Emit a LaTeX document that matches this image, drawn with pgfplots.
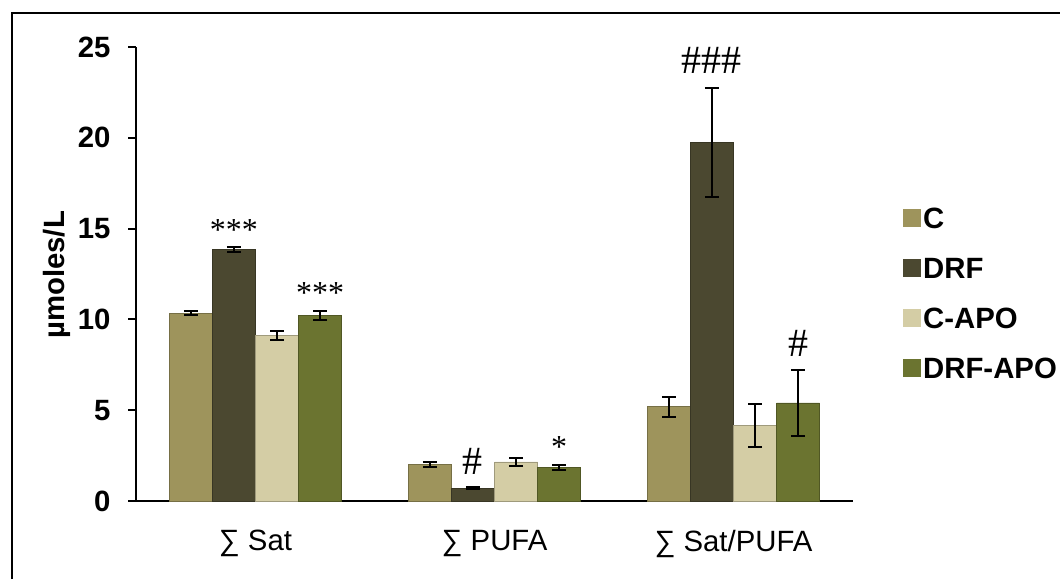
\documentclass[border=0pt]{standalone}
\usepackage{fontspec}
\setmainfont{Liberation Sans}
\newfontfamily\serif{Liberation Serif}
\usepackage{pgfplots}
\pgfplotsset{compat=1.18}
\definecolor{cC}{HTML}{9E945C}
\definecolor{cDRF}{HTML}{4B4830}
\definecolor{cCAPO}{HTML}{D4CDA5}
\definecolor{cDRFAPO}{HTML}{6B7430}
\pgfplotsset{
  mybar/.style={
    legend image code/.code={\fill[#1] (-3pt,-6.4pt) rectangle (9.75pt,6.4pt);},
    fill=#1, draw=#1!75!black, line width=0.5pt, bar shift=0pt,
    error bars/.cd, y dir=both, y explicit,
    error bar style={line width=1.5pt, black},
    error mark options={rotate=90, mark size=5.25pt, line width=1.5pt, black}},
}
\begin{document}
\begin{tikzpicture}
\useasboundingbox (0,0) rectangle (795pt,434.25pt);
\draw[line width=1.5pt] (9pt,0pt) -- (9pt,424.5pt) -- (800pt,424.5pt);
\begin{axis}[
  at={(102pt,58.5pt)}, anchor=south west,
  scale only axis, width=537.75pt, height=340.5pt,
  ybar, bar width=0.18,
  xmin=-0.5, xmax=2.5, ymin=0, ymax=25,
  axis x line*=bottom, axis y line*=left,
  axis line style={line width=1.8pt},
  tick align=outside,
  major tick length=6pt,
  tick style={line width=1.5pt, black},
  xtick={0,1,2},
  xticklabels={∑ Sat, ∑ PUFA, ∑ Sat/PUFA},
  x tick style={draw=none},
  extra x ticks={-0.5,0.5,1.5,2.5},
  extra x tick labels={},
  extra x tick style={tick style={draw=black, line width=1.5pt}, major tick length=6pt},
  ytick={0,5,10,15,20,25},
  /pgf/number format/assume math mode=true,
  yticklabel style={font=\bfseries\fontsize{22}{26}\selectfont, anchor=east, inner sep=0pt, xshift=-13pt},
  xticklabel style={font=\fontsize{22}{26}\selectfont, anchor=center, yshift=-26pt},
  ylabel={µmoles/L},
  ylabel style={font=\bfseries\fontsize{22}{26}\selectfont, at={(axis description cs:-0.110,0.498)}, anchor=center},
  clip=false,
  legend cell align=left,
  legend style={draw=none, fill=none, at={(1.0636,0.660)}, anchor=north west,
    font=\bfseries\fontsize{22}{26}\selectfont,
    nodes={inner sep=2pt, text height=16pt, text depth=0pt},
    row sep=17.5pt},
]
\addplot[mybar=cC]
  coordinates {(-0.27,10.35) +- (0,0.12) (0.73,2.0) +- (0,0.15) (1.73,5.2) +- (0,0.55)};
\addplot[mybar=cDRF]
  coordinates {(-0.09,13.85) +- (0,0.15) (0.91,0.7) +- (0,0.05) (1.91,19.75) +- (0,3.0)};
\addplot[mybar=cCAPO]
  coordinates {(0.09,9.12) +- (0,0.25) (1.09,2.15) +- (0,0.2) (2.09,4.15) +- (0,1.2)};
\addplot[mybar=cDRFAPO]
  coordinates {(0.27,10.22) +- (0,0.25) (1.27,1.85) +- (0,0.15) (2.27,5.4) +- (0,1.8)};
\legend{C, DRF, C-APO, DRF-APO}
\node[font=\serif\fontsize{24}{24}\selectfont, anchor=base] at (axis cs:-0.09,14.32) {***};
\node[font=\serif\fontsize{24}{24}\selectfont, anchor=base] at (axis cs:0.27,10.85) {***};
\node[font=\serif\fontsize{30}{30}\selectfont, anchor=base] at (axis cs:0.91,1.45) {\#};
\node[font=\serif\fontsize{24}{24}\selectfont, anchor=base] at (axis cs:1.27,2.37) {*};
\node[font=\serif\fontsize{30}{30}\selectfont, anchor=base] at (axis cs:1.91,23.54) {\#\#\#};
\node[font=\serif\fontsize{30}{30}\selectfont, anchor=base] at (axis cs:2.27,7.98) {\#};
\end{axis}
\end{tikzpicture}
\end{document}
